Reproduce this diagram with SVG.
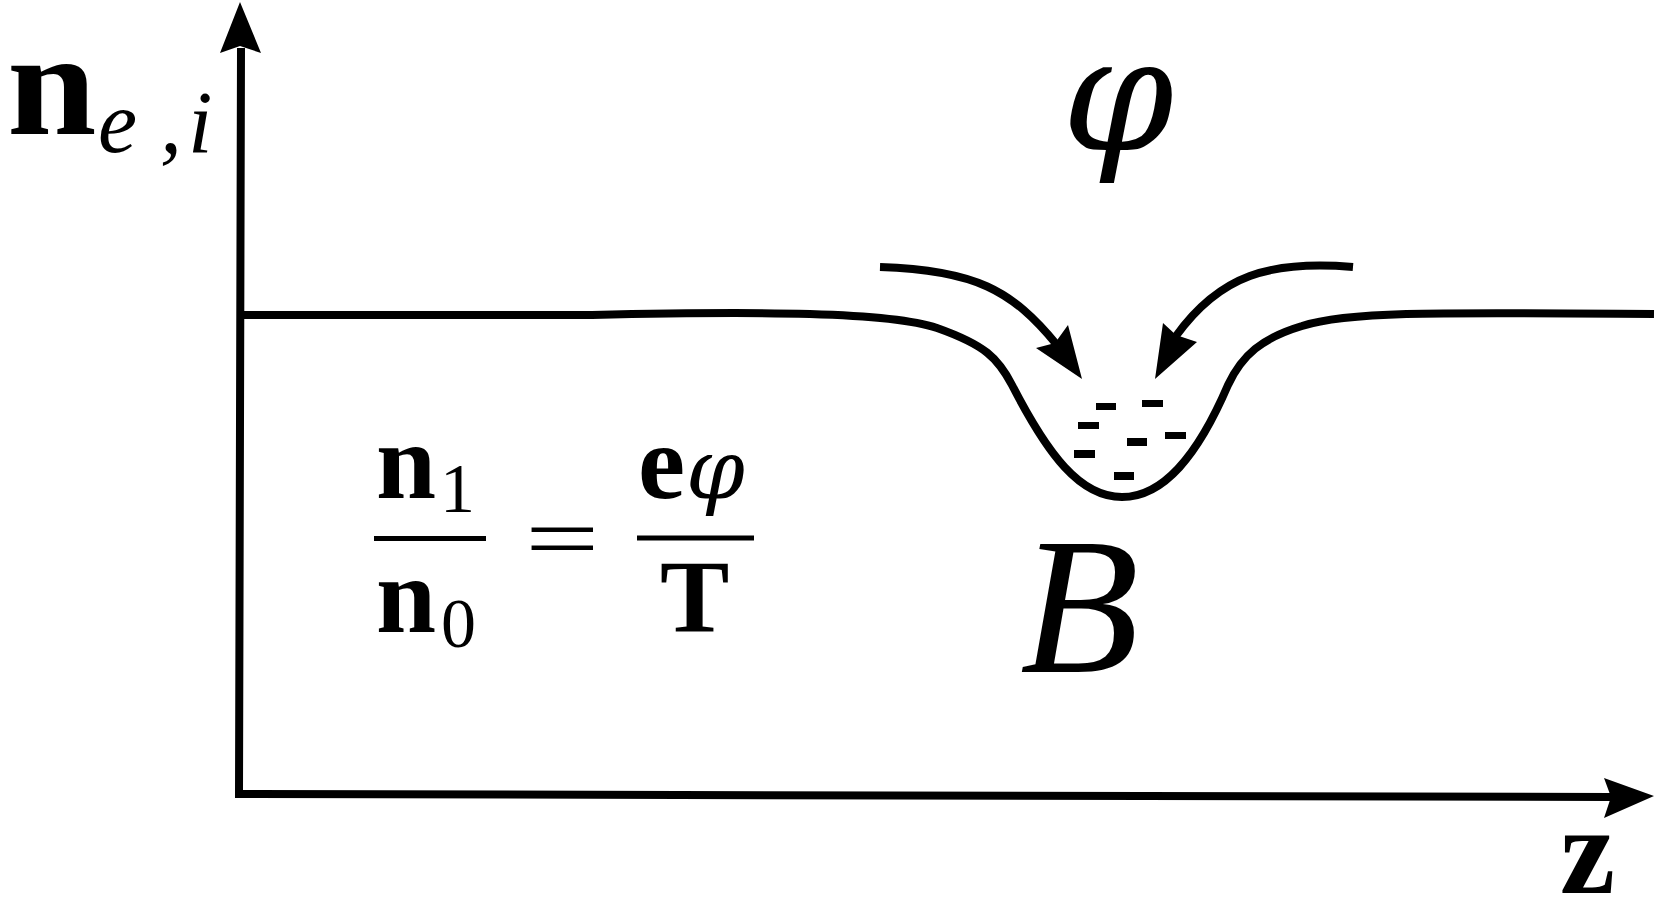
<svg xmlns="http://www.w3.org/2000/svg" width="1657" height="904" viewBox="0 0 1657 904">
<style>
.ln{fill:none;stroke:#000;stroke-width:8}
.ah{fill:#000;stroke:none}
.d{fill:#000}
.t{font-family:"Liberation Serif","Times New Roman",serif;fill:#000}
.g{font-family:"DejaVu Serif",serif;font-style:italic;fill:#000}
.b{font-weight:bold}
.i{font-style:italic}
.bar{stroke:#000;stroke-width:5}
</style>
<rect width="1657" height="904" fill="#fff"/>
<g id="connectors">
<g id="axes">
<path class="ln" d="M241,48 L239,794 L1612,797" stroke-linejoin="miter"/>
<polygon class="ah" points="240,2 261,53 240,46 220,53"/>
<polygon class="ah" points="1654,796 1604,778 1611,797 1604,818"/>
</g>
<path id="profile" class="ln" d="M241,315 L592,315 C760,311 890,312 937,328 C985,345 998,358 1012,385 C1048,455 1080,497 1122,497 C1164,497 1198,455 1228,385 C1242,355 1262,338 1302,326 C1345,312 1420,312 1654,314"/>
<g id="arrow-left">
<path class="ln" d="M880,267 C975,270 1012,290 1057,345"/>
<polygon class="ah" points="1082,379 1068,325 1055,343 1036,348"/>
</g>
<g id="arrow-right">
<path class="ln" d="M1353,267 C1270,260 1220,275 1176,336"/>
<polygon class="ah" points="1155,379 1197,342 1176,335 1163,323"/>
</g>
</g>
<g id="charges">
<rect class="d" x="1096" y="403" width="20" height="7"/>
<rect class="d" x="1142" y="400" width="21" height="7"/>
<rect class="d" x="1078" y="422" width="21" height="7"/>
<rect class="d" x="1165" y="432" width="21" height="7"/>
<rect class="d" x="1127" y="438" width="20" height="8"/>
<rect class="d" x="1074" y="450" width="21" height="8"/>
<rect class="d" x="1114" y="472" width="20" height="8"/>
</g>
<g id="label-n">
<text class="t b" transform="translate(7,134) scale(1.08,1)" x="0" y="0" font-size="149">n</text>
<text class="t i" font-size="88" y="152"><tspan x="98">e</tspan><tspan x="160">,</tspan><tspan x="188">i</tspan></text>
</g>
<g id="label-phi">
<text class="g" x="1062" y="150" font-size="160">φ</text>
</g>
<g id="equation">
<text class="t b" x="376" y="498" font-size="108">n</text>
<text class="t" x="440" y="512" font-size="70">1</text>
<line class="bar" x1="374" y1="538.5" x2="486" y2="538.5"/>
<text class="t b" x="376" y="632" font-size="108">n</text>
<text class="t" x="441" y="647" font-size="70">0</text>
<text class="t" transform="translate(525,568) scale(1.5,1)" x="0" y="0" font-size="88">=</text>
<text class="t b" x="638" y="498" font-size="106">e</text>
<text class="g" x="686" y="498" font-size="84">φ</text>
<line class="bar" x1="637" y1="538" x2="754" y2="538"/>
<text class="t b" x="660" y="632" font-size="104">T</text>
</g>
<g id="label-B">
<text class="t i" x="1020" y="672" font-size="195">B</text>
</g>
<g id="label-z">
<text class="t b" x="1560" y="893" font-size="124">z</text>
</g>
</svg>
